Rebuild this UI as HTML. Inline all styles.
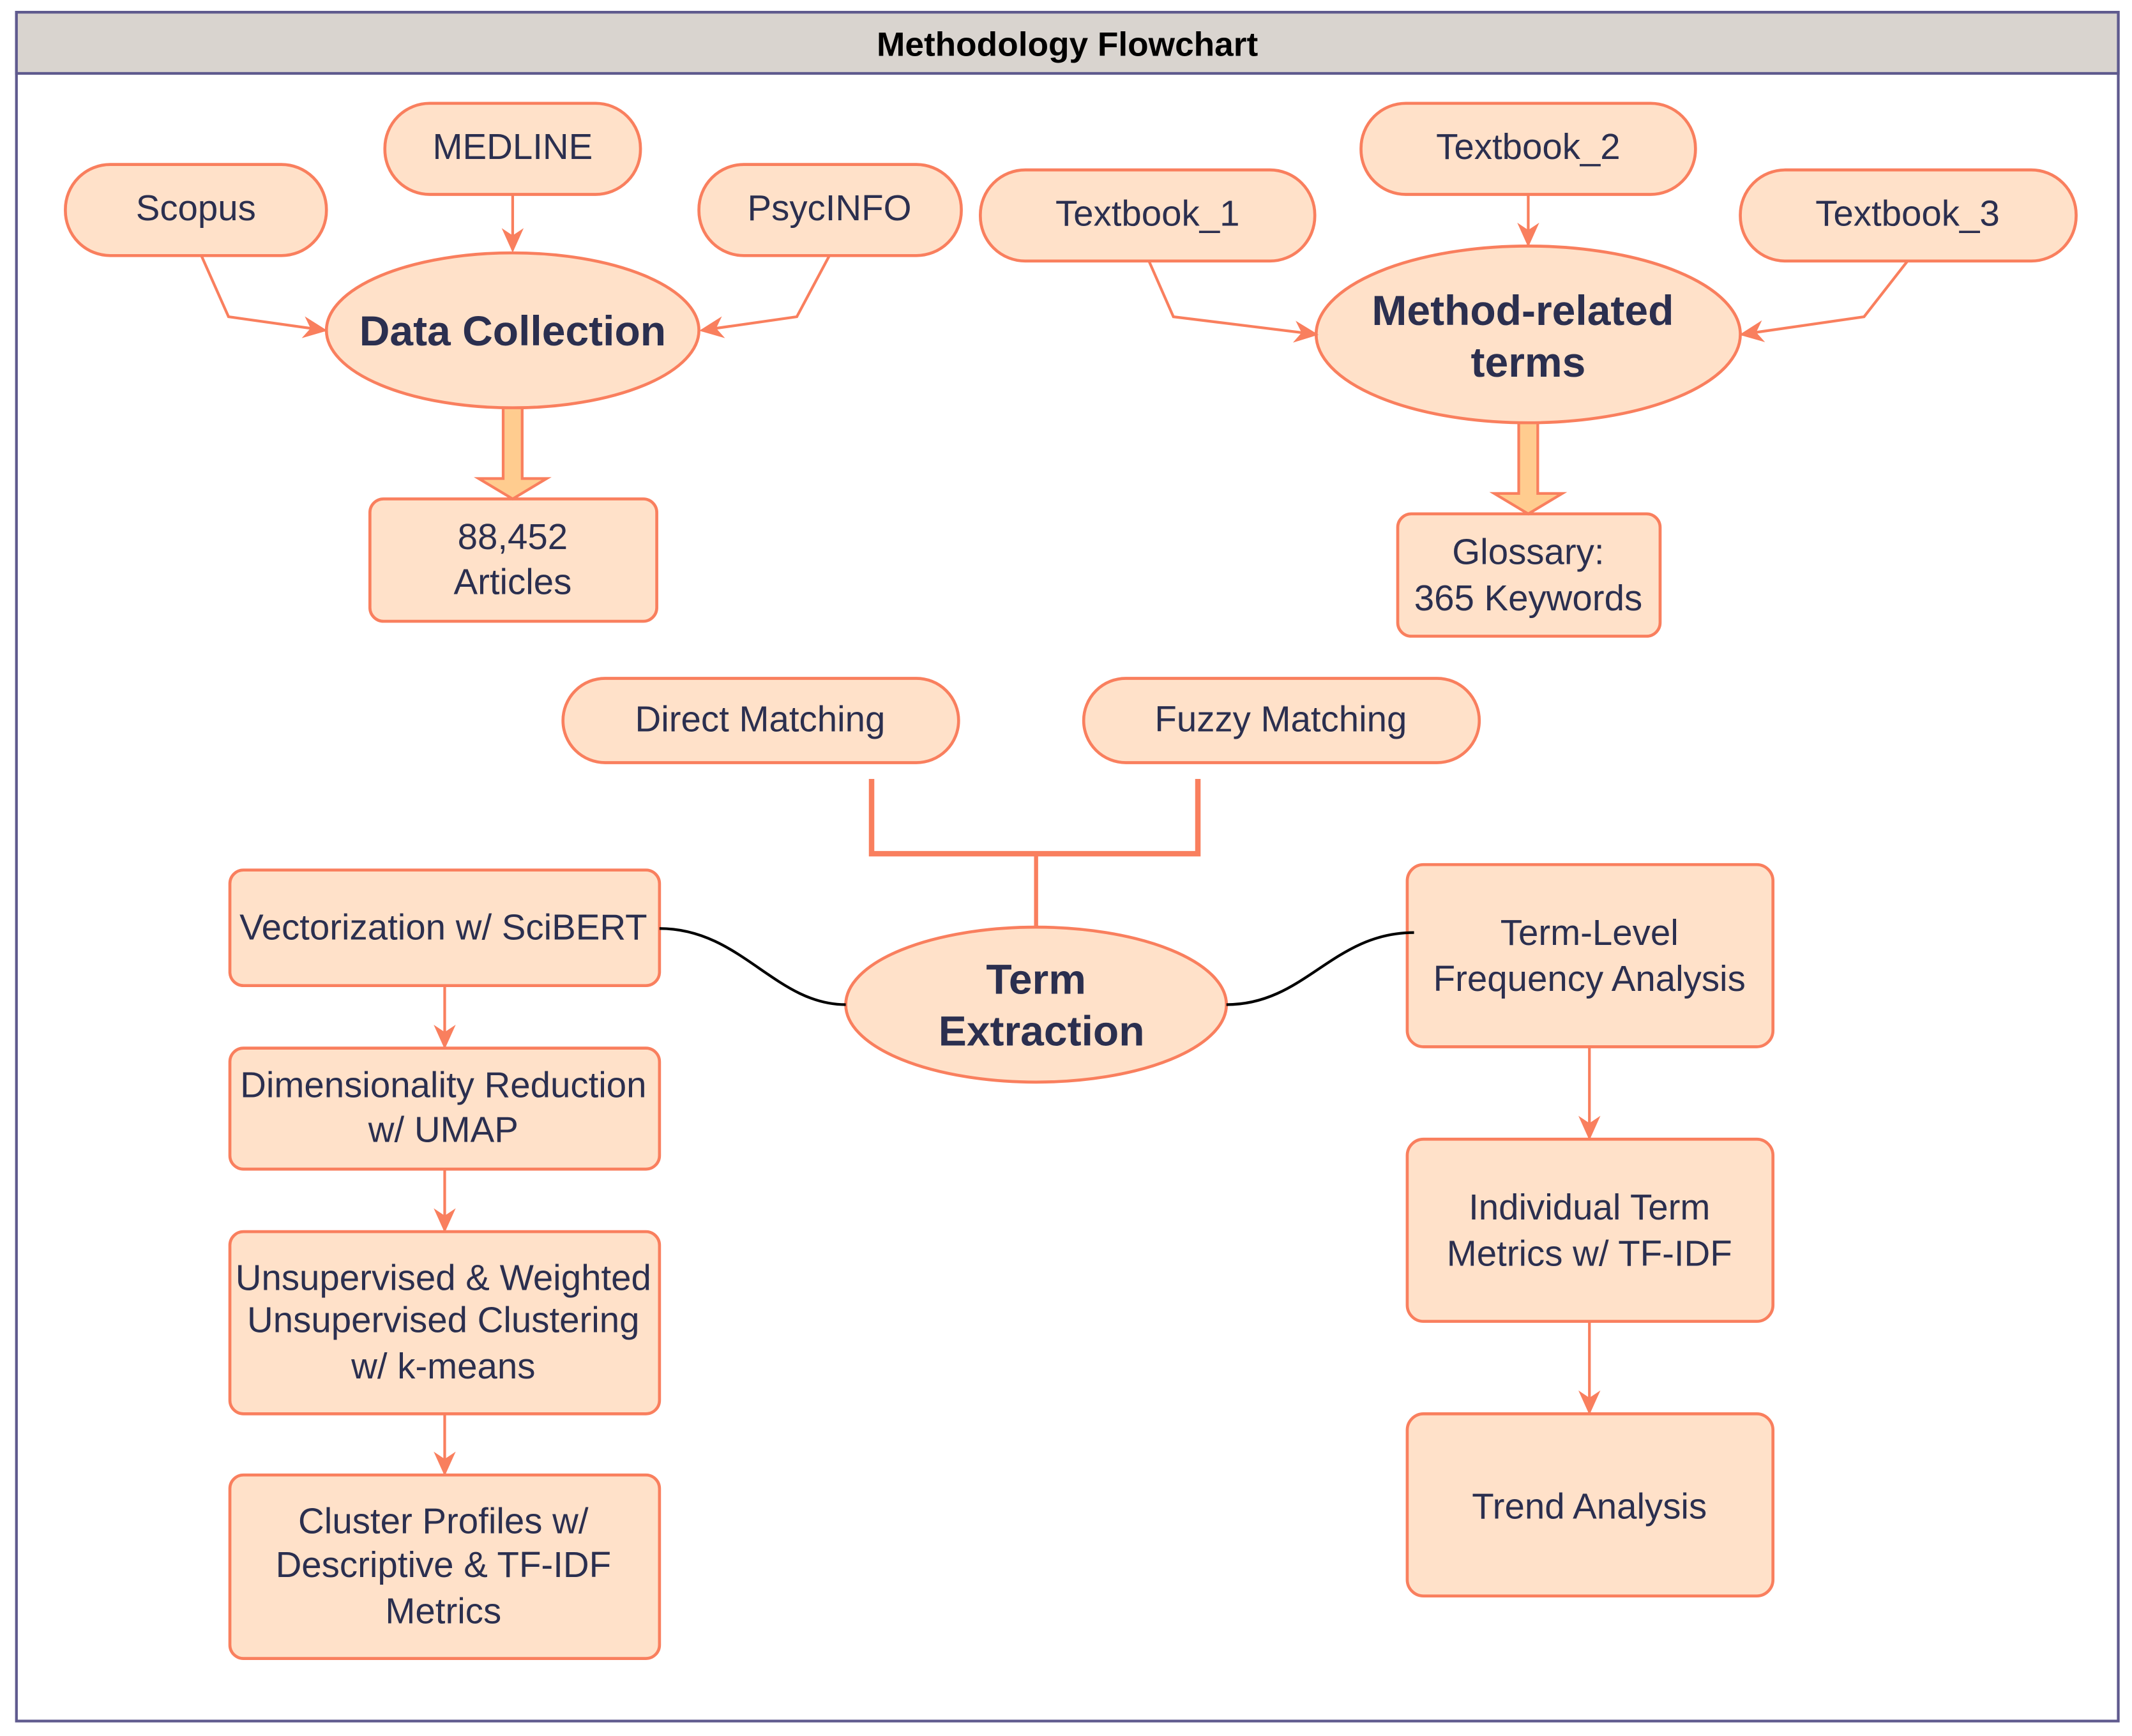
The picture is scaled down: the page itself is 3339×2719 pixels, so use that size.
<!DOCTYPE html>
<html><head><meta charset="utf-8"><style>html,body{margin:0;padding:0;background:#fff}svg{display:block}</style></head><body>
<svg width="3339" height="2719" viewBox="0 0 1568 1277" xmlns="http://www.w3.org/2000/svg" font-family="Liberation Sans, Arial, sans-serif">
<defs>
<marker id="ah" viewBox="0 0 10 10" refX="9" refY="5" markerWidth="18" markerHeight="18" orient="auto-start-reverse" markerUnits="userSpaceOnUse"><path d="M0,0.5 L10,5 L0,9.5 L3,5 z" fill="#F97F5E"/></marker>
</defs>
<rect x="0" y="0" width="1568" height="1277" fill="#fff"/>
<rect x="12" y="9" width="1546" height="1257" fill="#fff" stroke="#5F5A8E" stroke-width="2"/>
<rect x="12" y="9" width="1546" height="45" fill="#D9D4CF" stroke="#5F5A8E" stroke-width="2"/>
<text x="785" y="41" text-anchor="middle" font-size="25" font-weight="bold" fill="#000">Methodology Flowchart</text>

<g fill="#FFE1C9" stroke="#F97F5E" stroke-width="2.2">
<rect x="48" y="121" width="192" height="67" rx="33"/>
<rect x="283" y="76" width="188" height="67" rx="33"/>
<rect x="514" y="121" width="193" height="67" rx="33"/>
<ellipse cx="377" cy="243" rx="137" ry="57"/>
<rect x="272" y="367" width="211" height="90" rx="10"/>
<rect x="721" y="125" width="246" height="67" rx="33"/>
<rect x="1001" y="76" width="246" height="67" rx="33"/>
<rect x="1280" y="125" width="247" height="67" rx="33"/>
<ellipse cx="1124" cy="246" rx="156" ry="65"/>
<rect x="1028" y="378" width="193" height="90" rx="10"/>
<rect x="414" y="499" width="291" height="62" rx="31"/>
<rect x="797" y="499" width="291" height="62" rx="31"/>
<ellipse cx="762" cy="739" rx="140" ry="57"/>
<rect x="169" y="640" width="316" height="85" rx="10"/>
<rect x="169" y="771" width="316" height="89" rx="10"/>
<rect x="169" y="906" width="316" height="134" rx="10"/>
<rect x="169" y="1085" width="316" height="135" rx="10"/>
<rect x="1035" y="636" width="269" height="134" rx="12"/>
<rect x="1035" y="838" width="269" height="134" rx="12"/>
<rect x="1035" y="1040" width="269" height="134" rx="12"/>
</g>

<g fill="none" stroke="#F97F5E" stroke-width="2" marker-end="url(#ah)">
<path d="M377 143 V184"/>
<path d="M148 188 L168 233 L239 243"/>
<path d="M610 188 L586 233 L516 243"/>
<path d="M1124 143 V180"/>
<path d="M845 192 L863 233 L968 246"/>
<path d="M1403 192 L1371 233 L1281 246"/>
<path d="M327 725 V770"/>
<path d="M327 860 V905"/>
<path d="M327 1040 V1084"/>
<path d="M1169 770 V837"/>
<path d="M1169 972 V1039"/>
</g>

<g fill="#FFCC8F" stroke="#F97F5E" stroke-width="2">
<path d="M370 300 H384 V352 H402 L377 367 L352 352 H370 Z"/>
<path d="M1117 311 H1131 V363 H1149 L1124 378 L1099 363 H1117 Z"/>
</g>

<path d="M641 573 V628 H881 V573" fill="none" stroke="#F97F5E" stroke-width="4"/>
<path d="M762 628 V682" fill="none" stroke="#F97F5E" stroke-width="3"/>

<g fill="none" stroke="#000" stroke-width="2">
<path d="M485 683 C545 683 570 739 622 739"/>
<path d="M902 739 C960 739 980 686 1040 686"/>
</g>

<g fill="#2B2F4F" text-anchor="middle" font-size="26.5">
<text x="144" y="162">Scopus</text>
<text x="377" y="117">MEDLINE</text>
<text x="610" y="162">PsycINFO</text>
<text x="377" y="254" font-size="31" font-weight="bold">Data Collection</text>
<text x="377" y="404">88,452</text>
<text x="377" y="437">Articles</text>
<text x="844" y="166">Textbook_1</text>
<text x="1124" y="117">Textbook_2</text>
<text x="1403" y="166">Textbook_3</text>
<text x="1120" y="239" font-size="31" font-weight="bold">Method-related</text>
<text x="1124" y="277" font-size="31" font-weight="bold">terms</text>
<text x="1124" y="415">Glossary:</text>
<text x="1124" y="449">365 Keywords</text>
<text x="559" y="538">Direct Matching</text>
<text x="942" y="538">Fuzzy Matching</text>
<text x="762" y="731" font-size="31" font-weight="bold">Term</text>
<text x="766" y="769" font-size="31" font-weight="bold">Extraction</text>
<text x="326" y="691">Vectorization w/ SciBERT</text>
<text x="326" y="807">Dimensionality Reduction</text>
<text x="326" y="840">w/ UMAP</text>
<text x="326" y="949">Unsupervised &amp; Weighted</text>
<text x="326" y="980">Unsupervised Clustering</text>
<text x="326" y="1014">w/ k-means</text>
<text x="326" y="1128">Cluster Profiles w/</text>
<text x="326" y="1160">Descriptive &amp; TF-IDF</text>
<text x="326" y="1194">Metrics</text>
<text x="1169" y="695">Term-Level</text>
<text x="1169" y="729">Frequency Analysis</text>
<text x="1169" y="897">Individual Term</text>
<text x="1169" y="931">Metrics w/ TF-IDF</text>
<text x="1169" y="1117">Trend Analysis</text>
</g>
</svg>
</body></html>
